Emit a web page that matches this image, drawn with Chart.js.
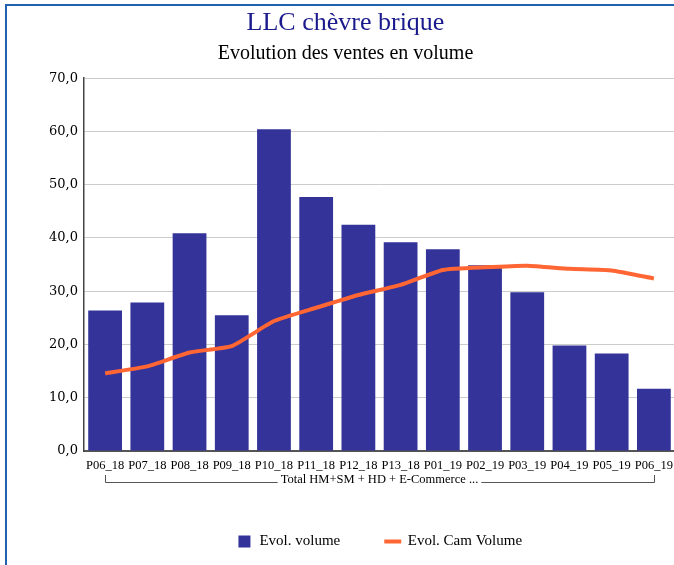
<!DOCTYPE html>
<html>
<head>
<meta charset="utf-8">
<script src="https://cdn.jsdelivr.net/npm/chart.js@4/dist/chart.umd.min.js"></script>
<style>
  html, body { margin: 0; padding: 0; background: #ffffff; overflow: hidden; }
  #frame { position: absolute; left: 5px; top: 4px; width: 700px; height: 580px;
           border-top: 2px solid #1e62b0; border-left: 2px solid #1e62b0; }
  canvas { display: block; }
</style>
</head>
<body>
<div id="frame"><canvas id="c" width="680" height="559"></canvas></div>
<script>
// ---- Data ----
const chartTitle = "LLC chèvre brique";
const chartSubtitle = "Evolution des ventes en volume";
const categories = ["P06_18","P07_18","P08_18","P09_18","P10_18","P11_18","P12_18","P13_18","P01_19","P02_19","P03_19","P04_19","P05_19","P06_19"];
const groupLabels = ["Total HM+SM + HD + E-Commerce ..."];
const seriesNames = ["Evol. volume", "Evol. Cam Volume"];
const volumeValues = [26.4, 27.9, 40.9, 25.5, 60.4, 47.7, 42.5, 39.2, 37.9, 34.9, 29.8, 19.8, 18.3, 11.7];
const camVolumeValues = [14.6, 15.9, 18.5, 19.7, 24.4, 26.9, 29.3, 31.2, 34.0, 34.5, 34.8, 34.2, 33.9, 32.4];
const yTicks = [0, 10, 20, 30, 40, 50, 60, 70];

const SERIF = "'Liberation Serif', 'Times New Roman', serif";
const GROUP_FONT_SIZE = 12.5;
const GROUP_PAD_BOTTOM = 2;

const bracketPlugin = {
  id: 'groupBracket',
  afterDraw(chart) {
    const x = chart.scales.x;
    const ctx = chart.ctx;
    const lineH = GROUP_FONT_SIZE * 1.2;
    const yText = x.bottom - GROUP_PAD_BOTTOM - lineH / 2;
    const yLine = Math.round(yText + 2);
    const x0 = Math.round(x.getPixelForValue(0));
    const x1 = Math.round(x.getPixelForValue(categories.length - 1));
    ctx.save();
    ctx.font = GROUP_FONT_SIZE + "px " + SERIF;
    const tw = ctx.measureText(groupLabels[0]).width;
    const cx = (x.left + x.right) / 2;
    const gap = 3;
    ctx.strokeStyle = '#555555';
    ctx.lineWidth = 1;
    ctx.beginPath();
    ctx.moveTo(x0 + 0.5, yLine - 7);
    ctx.lineTo(x0 + 0.5, yLine + 0.5);
    ctx.lineTo(cx - tw / 2 - gap, yLine + 0.5);
    ctx.moveTo(cx + tw / 2 + gap, yLine + 0.5);
    ctx.lineTo(x1 + 0.5, yLine + 0.5);
    ctx.lineTo(x1 + 0.5, yLine - 7);
    ctx.stroke();
    ctx.restore();
  }
};

new Chart(document.getElementById('c'), {
  data: {
    labels: categories,
    datasets: [
      {
        type: 'bar',
        label: seriesNames[0],
        data: volumeValues,
        backgroundColor: '#333399',
        borderWidth: 0,
        barPercentage: 0.8,
        categoryPercentage: 1.0,
        pointStyle: 'rect',
        order: 2
      },
      {
        type: 'line',
        label: seriesNames[1],
        data: camVolumeValues,
        borderColor: '#ff6633',
        backgroundColor: '#ff6633',
        borderWidth: 4,
        pointRadius: 0,
        tension: 0.15,
        fill: false,
        pointStyle: 'line',
        order: 1
      }
    ]
  },
  options: {
    responsive: false,
    animation: false,
    devicePixelRatio: 1,
    layout: { padding: { left: 9, right: 12, top: 2, bottom: 6 } },
    plugins: {
      title: {
        display: true,
        text: chartTitle,
        color: '#1a1a8c',
        font: { family: SERIF, size: 26, weight: 'normal' },
        padding: { top: 0, bottom: 1 }
      },
      subtitle: {
        display: true,
        text: chartSubtitle,
        color: '#000000',
        font: { family: SERIF, size: 20, weight: 'normal' },
        padding: { top: 2, bottom: 12 }
      },
      legend: {
        position: 'bottom',
        fullSize: false,
        labels: {
          usePointStyle: true,
          boxHeight: 12,
          padding: 45,
          color: '#000000',
          font: { family: SERIF, size: 15 },
          sort: (a, b) => a.datasetIndex - b.datasetIndex
        }
      },
      tooltip: { enabled: false }
    },
    scales: {
      x: {
        grid: { display: false, drawTicks: false },
        border: { display: true, color: '#555555', width: 2 },
        ticks: {
          color: '#000000',
          padding: 7,
          maxRotation: 0,
          autoSkip: false,
          font: { family: SERIF, size: 12.5 }
        },
        title: {
          display: true,
          text: groupLabels[0],
          color: '#000000',
          padding: { top: 0, bottom: GROUP_PAD_BOTTOM },
          font: { family: SERIF, size: GROUP_FONT_SIZE }
        },
        afterFit(s) { s.height = 38; }
      },
      y: {
        min: 0,
        max: 70,
        afterBuildTicks(s) { s.ticks = yTicks.map(v => ({ value: v })); },
        grid: { color: '#cccccc', lineWidth: 1, drawTicks: false },
        border: { display: true, color: '#444444', width: 1.5 },
        ticks: {
          color: '#000000',
          padding: 6,
          font: { family: "'DejaVu Serif', serif", size: 13 },
          callback: v => v.toFixed(1).replace('.', ',')
        },
        afterFit(s) { s.width = 68; }
      }
    }
  },
  plugins: [bracketPlugin]
});
</script>
</body>
</html>
